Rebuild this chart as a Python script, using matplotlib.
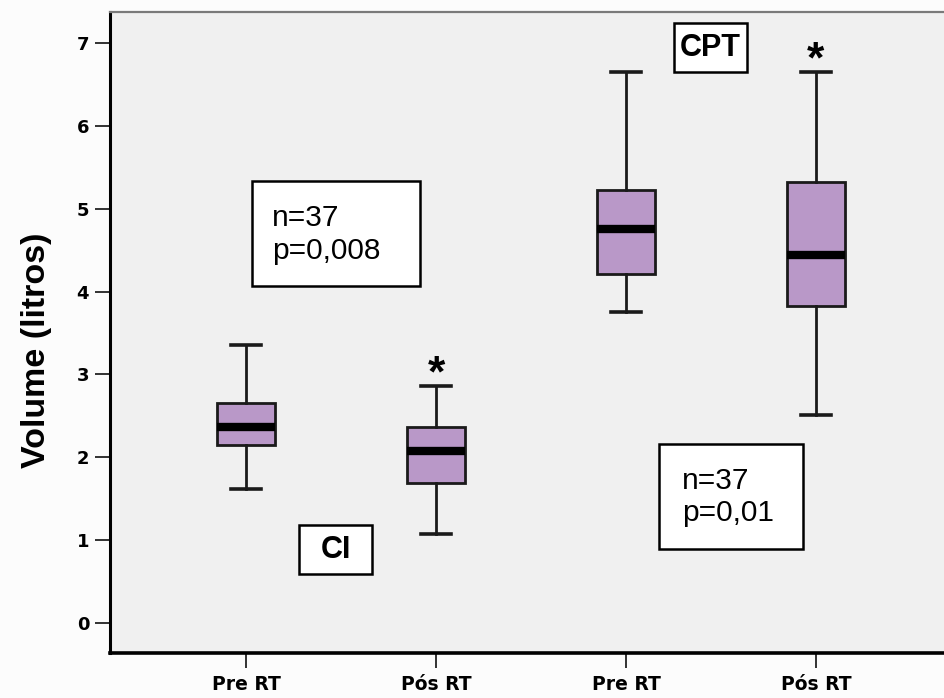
import matplotlib
matplotlib.use("Agg")
import matplotlib.pyplot as plt
from matplotlib.patches import Rectangle

# ---- data ----
labels = ["Pre RT", "Pós RT", "Pre RT", "Pós RT"]
whislo = [1.62, 1.08, 3.75, 2.51]
q1 = [2.15, 1.69, 4.21, 3.83]
med = [2.36, 2.08, 4.76, 4.44]
q3 = [2.66, 2.36, 5.23, 5.32]
whishi = [3.35, 2.86, 6.65, 6.65]
starred = [False, True, False, True]
yticks = [0, 1, 2, 3, 4, 5, 6, 7]

box_color = "#b998c8"
ax_bg = "#f0f0f0"

fig = plt.figure(figsize=(9.44, 6.98), dpi=100, facecolor="#fcfcfc")
ax = fig.add_axes([110 / 944, 45 / 698, 834 / 944, 641 / 698])
ax.set_facecolor(ax_bg)

stats = [dict(label=l, whislo=a, q1=b, med=c, q3=d, whishi=e, fliers=[])
         for l, a, b, c, d, e in zip(labels, whislo, q1, med, q3, whishi)]
positions = list(range(1, len(stats) + 1))
ax.bxp(stats, positions=positions, widths=0.31, capwidths=0.155,
       patch_artist=True, showfliers=False,
       boxprops=dict(facecolor=box_color, edgecolor="#1a1a1a", linewidth=2.0),
       whiskerprops=dict(color="#1a1a1a", linewidth=2.0),
       capprops=dict(color="#1a1a1a", linewidth=2.6),
       medianprops=dict(color="black", linewidth=6, solid_capstyle="butt"))

for p, w, s in zip(positions, whishi, starred):
    if s:
        ax.annotate("*", xy=(p, w), xytext=(0, -6.5), textcoords="offset points",
                    ha="center", va="bottom", fontsize=32, fontweight="bold",
                    family="Liberation Sans")

ax.set_xlim(0.284, 4.674)
ax.set_ylim(-0.362, 7.374)
ax.set_yticks(yticks)
ax.set_yticklabels([str(t) for t in yticks])
ax.set_xticks(positions)
ax.set_xticklabels(labels)

for lab in ax.get_yticklabels():
    lab.set_fontweight("bold")
    lab.set_fontsize(13)
for lab in ax.get_xticklabels():
    lab.set_fontweight("bold")
    lab.set_fontsize(13.5)

ax.tick_params(axis="y", length=11, width=1.3, pad=4, colors="#222222", labelcolor="black")
ax.tick_params(axis="x", length=11, width=1.3, pad=5, colors="#222222", labelcolor="black")

ax.spines["left"].set_linewidth(2.2)
ax.spines["left"].set_color("black")
ax.spines["bottom"].set_linewidth(2.6)
ax.spines["bottom"].set_color("black")
ax.spines["top"].set_linewidth(1.6)
ax.spines["top"].set_color("#7a7a7a")
ax.spines["right"].set_visible(False)

ax.set_ylabel("Volume (litros)", fontsize=24.5, fontweight="bold",
              family="Liberation Sans")
ax.yaxis.set_label_coords(-0.07, 0.473)

# ---- annotation boxes ----
def framed(x0, y0, x1, y1):
    ax.add_patch(Rectangle((x0, y0), x1 - x0, y1 - y0, facecolor="white",
                           edgecolor="black", linewidth=1.8, zorder=3))

framed(1.032, 4.067, 1.916, 5.334)
ax.text(1.137, 4.69, "n=37\np=0,008", ha="left", va="center", fontsize=21.5,
        family="Liberation Sans", zorder=4, linespacing=1.2)

framed(3.174, 0.893, 3.932, 2.160)
ax.text(3.295, 1.52, "n=37\np=0,01", ha="left", va="center", fontsize=21.5,
        family="Liberation Sans", zorder=4, linespacing=1.2)

framed(1.279, 0.591, 1.663, 1.183)
ax.text(1.471, 0.887, "CI", ha="center", va="center", fontsize=22,
        fontweight="bold", family="Liberation Sans", zorder=4)

framed(3.253, 6.650, 3.637, 7.241)
ax.text(3.445, 6.945, "CPT", ha="center", va="center", fontsize=22,
        fontweight="bold", family="Liberation Sans", zorder=4)

fig.savefig("out.png", dpi=100, facecolor=fig.get_facecolor())
